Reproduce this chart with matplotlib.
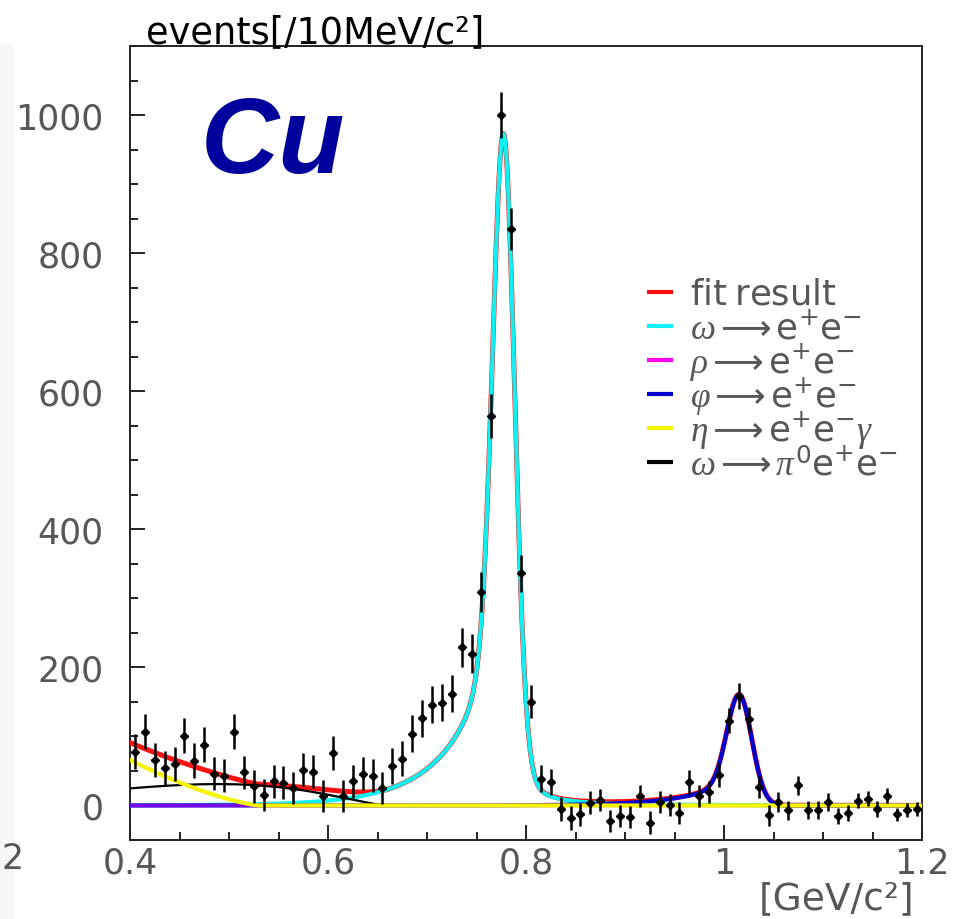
import math
import numpy as np
import matplotlib
matplotlib.use("Agg")
import matplotlib.pyplot as plt
from matplotlib.ticker import MultipleLocator, FixedLocator
from matplotlib.patches import Rectangle

# ---------------------------------------------------------------
# e+e- invariant-mass spectrum (Cu target), 10 MeV/c^2 bins
# ---------------------------------------------------------------
mass_lo, mass_hi, bin_width = 0.40, 1.20, 0.01

counts = [
    78, 107, 66, 54, 60, 101, 65, 88, 46, 43,
    107, 48, 28, 15, 35, 33, 25, 52, 49, 14,
    76, 14, 35, 46, 43, 25, 57, 68, 104, 126,
    146, 149, 162, 229, 220, 309, 564, 1000, 835, 336,
    150, 39, 34, -5, -18, -13, 4, 8, -23, -15,
    -17, 14, -25, 5, 1, -11, 34, 14, 20, 44,
    123, 159, 125, 27, -14, 5, -7, 29, -7, -7,
    5, -15, -11, 7, 10, -5, 14, -13, -7, -5,
]

errors = [
    25, 25, 25, 25, 25, 25, 25, 25, 24, 24,
    25, 24, 24, 23, 24, 24, 23, 24, 24, 23,
    25, 23, 24, 24, 24, 23, 26, 26, 27, 27,
    27, 27, 27, 28, 28, 29, 32, 33, 31, 27,
    24, 20, 19, 18, 17, 17, 17, 16, 16, 16,
    16, 16, 17, 16, 16, 16, 17, 16, 16, 17,
    18, 19, 18, 16, 15, 14, 14, 14, 13, 13,
    13, 12, 11, 11, 11, 11, 11, 10, 10, 10,
]

# fitted components (GeV/c^2, events per bin)
omega_ee = dict(mass=0.778, sigma=0.011, core=848.0, lor_frac=0.12,
                gamma=0.018, tail=244.0, tail_len=0.048)
phi_ee = dict(mass=1.016, sigma=0.0125, core=139.0, lor_frac=0.0,
              gamma=0.004, tail=42.0, tail_len=0.047)
rho_ee_amp = 0.0
eta_dalitz = dict(value_at_lo=66.0, m_end=0.53, power=1.3)
omega_dalitz = dict(peak=31.0, m_end=0.66, a=3.65, b=1.5)

legend_labels = [
    r"$\mathrm{fit\ result}$",
    r"$\omega \longrightarrow \mathrm{e^{+}e^{-}}$",
    r"$\rho \longrightarrow \mathrm{e^{+}e^{-}}$",
    r"$\varphi \longrightarrow \mathrm{e^{+}e^{-}}$",
    r"$\eta \longrightarrow \mathrm{e^{+}e^{-}}\gamma$",
    r"$\omega \longrightarrow \pi^{0}\mathrm{e^{+}e^{-}}$",
]
legend_colors = ["#ff1010", "#10f0f0", "#ff00ff", "#0000d0", "#f5f500", "black"]

# ---------------------------------------------------------------
_erfc = np.vectorize(math.erfc)


def resonance(m, p):
    d = m - p["mass"]
    core = ((1 - p["lor_frac"]) * np.exp(-0.5 * (d / p["sigma"]) ** 2)
            + p["lor_frac"] * p["gamma"] ** 2 / (p["gamma"] ** 2 + d ** 2))
    arg = np.clip(d / p["tail_len"], None, 50)
    tail = np.exp(arg) * 0.5 * _erfc(d / (math.sqrt(2) * p["sigma"]))
    return p["core"] * core + p["tail"] * tail


def eta_shape(m, p):
    x = np.clip(1 - m ** 2 / p["m_end"] ** 2, 0, None)
    f = x ** p["power"] / m
    f0 = (1 - mass_lo ** 2 / p["m_end"] ** 2) ** p["power"] / mass_lo
    return p["value_at_lo"] * f / f0


def omega_dalitz_shape(m, p):
    x = np.clip(p["m_end"] ** 2 - m ** 2, 0, None)
    f = m ** p["a"] * x ** p["b"]
    return p["peak"] * f / f.max()


m = np.linspace(mass_lo, mass_hi, 2001)
y_omega = resonance(m, omega_ee)
y_phi = resonance(m, phi_ee)
y_rho = rho_ee_amp * np.ones_like(m)
y_eta = eta_shape(m, eta_dalitz)
y_odal = omega_dalitz_shape(m, omega_dalitz)
y_fit = y_omega + y_phi + y_rho + y_eta + y_odal

centers = mass_lo + bin_width * (np.arange(len(counts)) + 0.5)

# ---------------------------------------------------------------
plt.rcParams["mathtext.fontset"] = "custom"
plt.rcParams["mathtext.rm"] = "DejaVu Sans"
plt.rcParams["mathtext.it"] = "Liberation Serif:italic"
plt.rcParams["mathtext.fallback"] = "cm"

GREY = "#575757"
LIGHT = dict(family=["DejaVu Sans"])

W, H = 954, 920
fig = plt.figure(figsize=(W / 100, H / 100), dpi=100)
ax_left, ax_right, ax_top, ax_bottom = 130, 922, 47, 841
ax = fig.add_axes([ax_left / W, 1 - ax_bottom / H,
                   (ax_right - ax_left) / W, (ax_bottom - ax_top) / H])

ax.plot(m, y_fit, color=legend_colors[0], lw=3.6, zorder=3)
ax.plot(m, y_omega, color=legend_colors[1], lw=3.0, zorder=4)
ax.plot(m, y_phi, color=legend_colors[3], lw=3.0, zorder=5)
ax.plot(m, y_rho, color=legend_colors[2], lw=2.6, alpha=0.5, zorder=5.5)
dal_mask = m <= 0.80
ax.plot(m[dal_mask], y_odal[dal_mask], color=legend_colors[5], lw=1.6, zorder=6)
ax.plot(m, y_eta, color=legend_colors[4], lw=3.0, zorder=6.5)

ax.errorbar(centers, counts, yerr=errors, xerr=0.0035, fmt="D", ms=4.5,
            color="black", ecolor="black", elinewidth=1.8, capsize=0, zorder=7)

ax.set_xlim(mass_lo, mass_hi)
ax.set_ylim(-50, 1100)

ax.xaxis.set_major_locator(FixedLocator([0.4, 0.6, 0.8, 1.0, 1.2]))
ax.xaxis.set_minor_locator(MultipleLocator(0.05))
ax.yaxis.set_major_locator(MultipleLocator(200))
ax.yaxis.set_minor_locator(MultipleLocator(50))
ax.set_xticklabels(["0.4", "0.6", "0.8", "1", "1.2"])

for lab in ax.get_xticklabels() + ax.get_yticklabels():
    lab.set_fontfamily(LIGHT["family"])
    lab.set_fontsize(25)
    lab.set_color(GREY)

ax.tick_params(which="both", direction="in", top=False, right=False, color="#222222")
ax.tick_params(which="major", length=11, width=1.4)
ax.tick_params(which="minor", length=6, width=1.4)
ax.tick_params(axis="y", pad=19)
ax.tick_params(axis="x", pad=4)
for sp in ax.spines.values():
    sp.set_linewidth(1.4)
    sp.set_color("#222222")


# legend block, placed in pixel units of the figure
def px_to_axes(px, py):
    return ((px - ax_left) / (ax_right - ax_left),
            (ax_bottom - py) / (ax_bottom - ax_top))


row0, row_step = 292.7, 34.1
for i, (lab, col) in enumerate(zip(legend_labels, legend_colors)):
    yc = row0 + i * row_step
    x0, y0 = px_to_axes(647, yc)
    x1, _ = px_to_axes(673, yc)
    ax.plot([x0, x1], [y0, y0], transform=ax.transAxes, color=col, lw=3.0,
            solid_capstyle="butt", clip_on=False, zorder=8)
    tx, ty = px_to_axes(690, yc + 12)
    ax.text(tx, ty, lab, transform=ax.transAxes, fontsize=25.5, color=GREY,
            ha="left", va="baseline", zorder=8, **LIGHT)

# titles and annotation
fig.text(146 / W, 1 - 43 / H, "events[/10MeV/c²]", fontsize=26.5,
         family=["DejaVu Sans"], ha="left", va="baseline", color="black")
fig.text(914 / W, 1 - 909 / H, "[GeV/c²]", fontsize=27, color=GREY,
         ha="right", va="baseline", **LIGHT)
fig.text(273 / W, 1 - 173 / H, "Cu", fontsize=78, weight="bold", style="italic",
         family=["Liberation Sans", "DejaVu Sans"], ha="center", va="baseline",
         color="#00009c")

fig.patches.append(Rectangle((0, 0), 14 / W, 1 - 45 / H, transform=fig.transFigure,
                             facecolor="#f7f7f7", edgecolor="none", zorder=-1))
fig.text(1 / W, 1 - 869 / H, "2", fontsize=25, color=GREY,
         ha="left", va="baseline", **LIGHT)

fig.savefig("out.png", dpi=100)
